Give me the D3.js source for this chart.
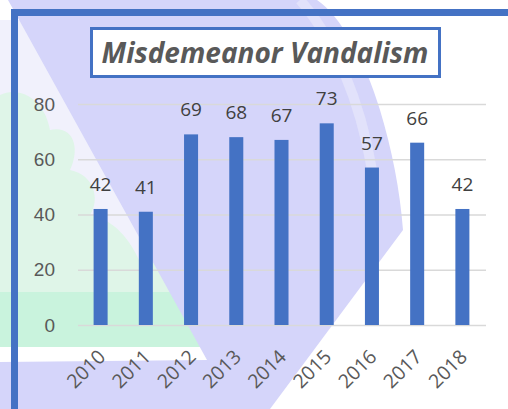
<!DOCTYPE html>
<html>
  <head>
    <meta charset="utf-8">
    <title>Misdemeanor Vandalism</title>
    <script src="https://d3js.org/d3.v7.min.js"></script>
    <style>
      body { margin: 0; background: #fff; }
      svg { display: block; font-family: "Open Sans", Lato, sans-serif; }
    </style>
  </head>
  <body>
    <div id="chart"></div>
    <script>
      // chart data
      const years = ["2010", "2011", "2012", "2013", "2014", "2015", "2016", "2017", "2018"];
      const counts = [42, 41, 69, 68, 67, 73, 57, 66, 42];
      const yTicks = [0, 20, 40, 60, 80];
      const title = "Misdemeanor Vandalism";

      const width = 508, height = 409;
      const blue = "#4472C4";

      const svg = d3.select("#chart")
        .append("svg")
          .attr("width", width)
          .attr("height", height);

      // faint badge watermark behind the chart
      const bg = svg.append("g").attr("id", "watermark");
      // pale wash left of the diagonal
      bg.append("path")
        .attr("fill", "#f1f1fc")
        .attr("d", "M0,20 L20,20 L180,300 L0,300 Z");
      // pale tree
      bg.append("path")
        .attr("fill", "#dff5e8")
        .attr("d", "M0,95 C20,85 45,100 50,130 C75,125 80,150 70,170 C95,175 100,200 90,215 " +
                   "C115,220 130,240 140,262 L165,262 L175,292 L0,292 Z");
      // solid mint band
      bg.append("path")
        .attr("fill", "#c9f3dd")
        .attr("d", "M0,292 L175,292 L207,347 L0,347 Z");
      // big lavender shape
      bg.append("path")
        .attr("fill", "#d5d5fa")
        .attr("d", "M8,0 L317,0 C340,15 365,60 380,110 C392,150 400,190 403,230 L270,409 L0,409 L0,362 L207,360 L23,27 Z");
      // lighter stripe in the lavender
      bg.append("path")
        .attr("fill", "none")
        .attr("stroke", "#e2e2fb")
        .attr("stroke-width", 10)
        .attr("d", "M300,0 C335,40 360,100 372,170");

      // outer frame
      svg.append("rect")
        .attr("x", 14.5)
        .attr("y", 12.5)
        .attr("width", 700)
        .attr("height", 700)
        .attr("fill", "none")
        .attr("stroke", blue)
        .attr("stroke-width", 7);

      // scales
      const x = d3.scaleBand()
        .domain(years)
        .range([78, 485])
        .paddingInner(0.69)
        .paddingOuter(0.345);
      const y = d3.scaleLinear()
        .domain([0, 80])
        .range([325, 104]);

      // gridlines + y labels
      const yAxis = svg.append("g")
        .attr("transform", "translate(78,0)")
        .call(d3.axisLeft(y)
          .tickValues(yTicks)
          .tickSize(-(486 - 78))
          .tickPadding(23));
      yAxis.select(".domain").remove();
      yAxis.selectAll(".tick line")
        .attr("stroke", "#d9d9d9")
        .attr("stroke-width", 1.5);
      yAxis.selectAll(".tick text")
        .attr("fill", "#595959")
        .style("font-size", "19px");

      // bars
      svg.append("g")
        .selectAll("rect")
          .data(counts)
        .enter().append("rect")
          .attr("x", function(d, i) { return x(years[i]); })
          .attr("y", function(d) { return y(d); })
          .attr("width", x.bandwidth())
          .attr("height", function(d) { return y(0) - y(d); })
          .attr("fill", blue);

      // value labels
      svg.append("g")
        .selectAll("text")
          .data(counts)
        .enter().append("text")
          .attr("x", function(d, i) { return x(years[i]) + x.bandwidth() / 2; })
          .attr("y", function(d) { return y(d) - 18; })
          .attr("text-anchor", "middle")
          .attr("fill", "#404040")
          .style("font-size", "19px")
          .text(function(d) { return d; });

      // rotated year labels
      svg.append("g")
        .selectAll("text")
          .data(years)
        .enter().append("text")
          .attr("transform", function(d) {
            return "translate(" + (x(d) + x.bandwidth() / 2 + 6) + ",358) rotate(-45)";
          })
          .attr("text-anchor", "end")
          .attr("fill", "#595959")
          .style("font-size", "19.5px")
          .text(function(d) { return d; });

      // title box
      svg.append("rect")
        .attr("x", 91.5)
        .attr("y", 28.5)
        .attr("width", 348)
        .attr("height", 48)
        .attr("fill", "#ffffff")
        .attr("stroke", blue)
        .attr("stroke-width", 3);
      svg.append("text")
        .attr("x", 265)
        .attr("y", 63)
        .attr("text-anchor", "middle")
        .attr("fill", "#595959")
        .style("font-size", "28px")
        .style("font-weight", "bold")
        .style("font-style", "italic")
        .text(title);
    </script>
  </body>
</html>
